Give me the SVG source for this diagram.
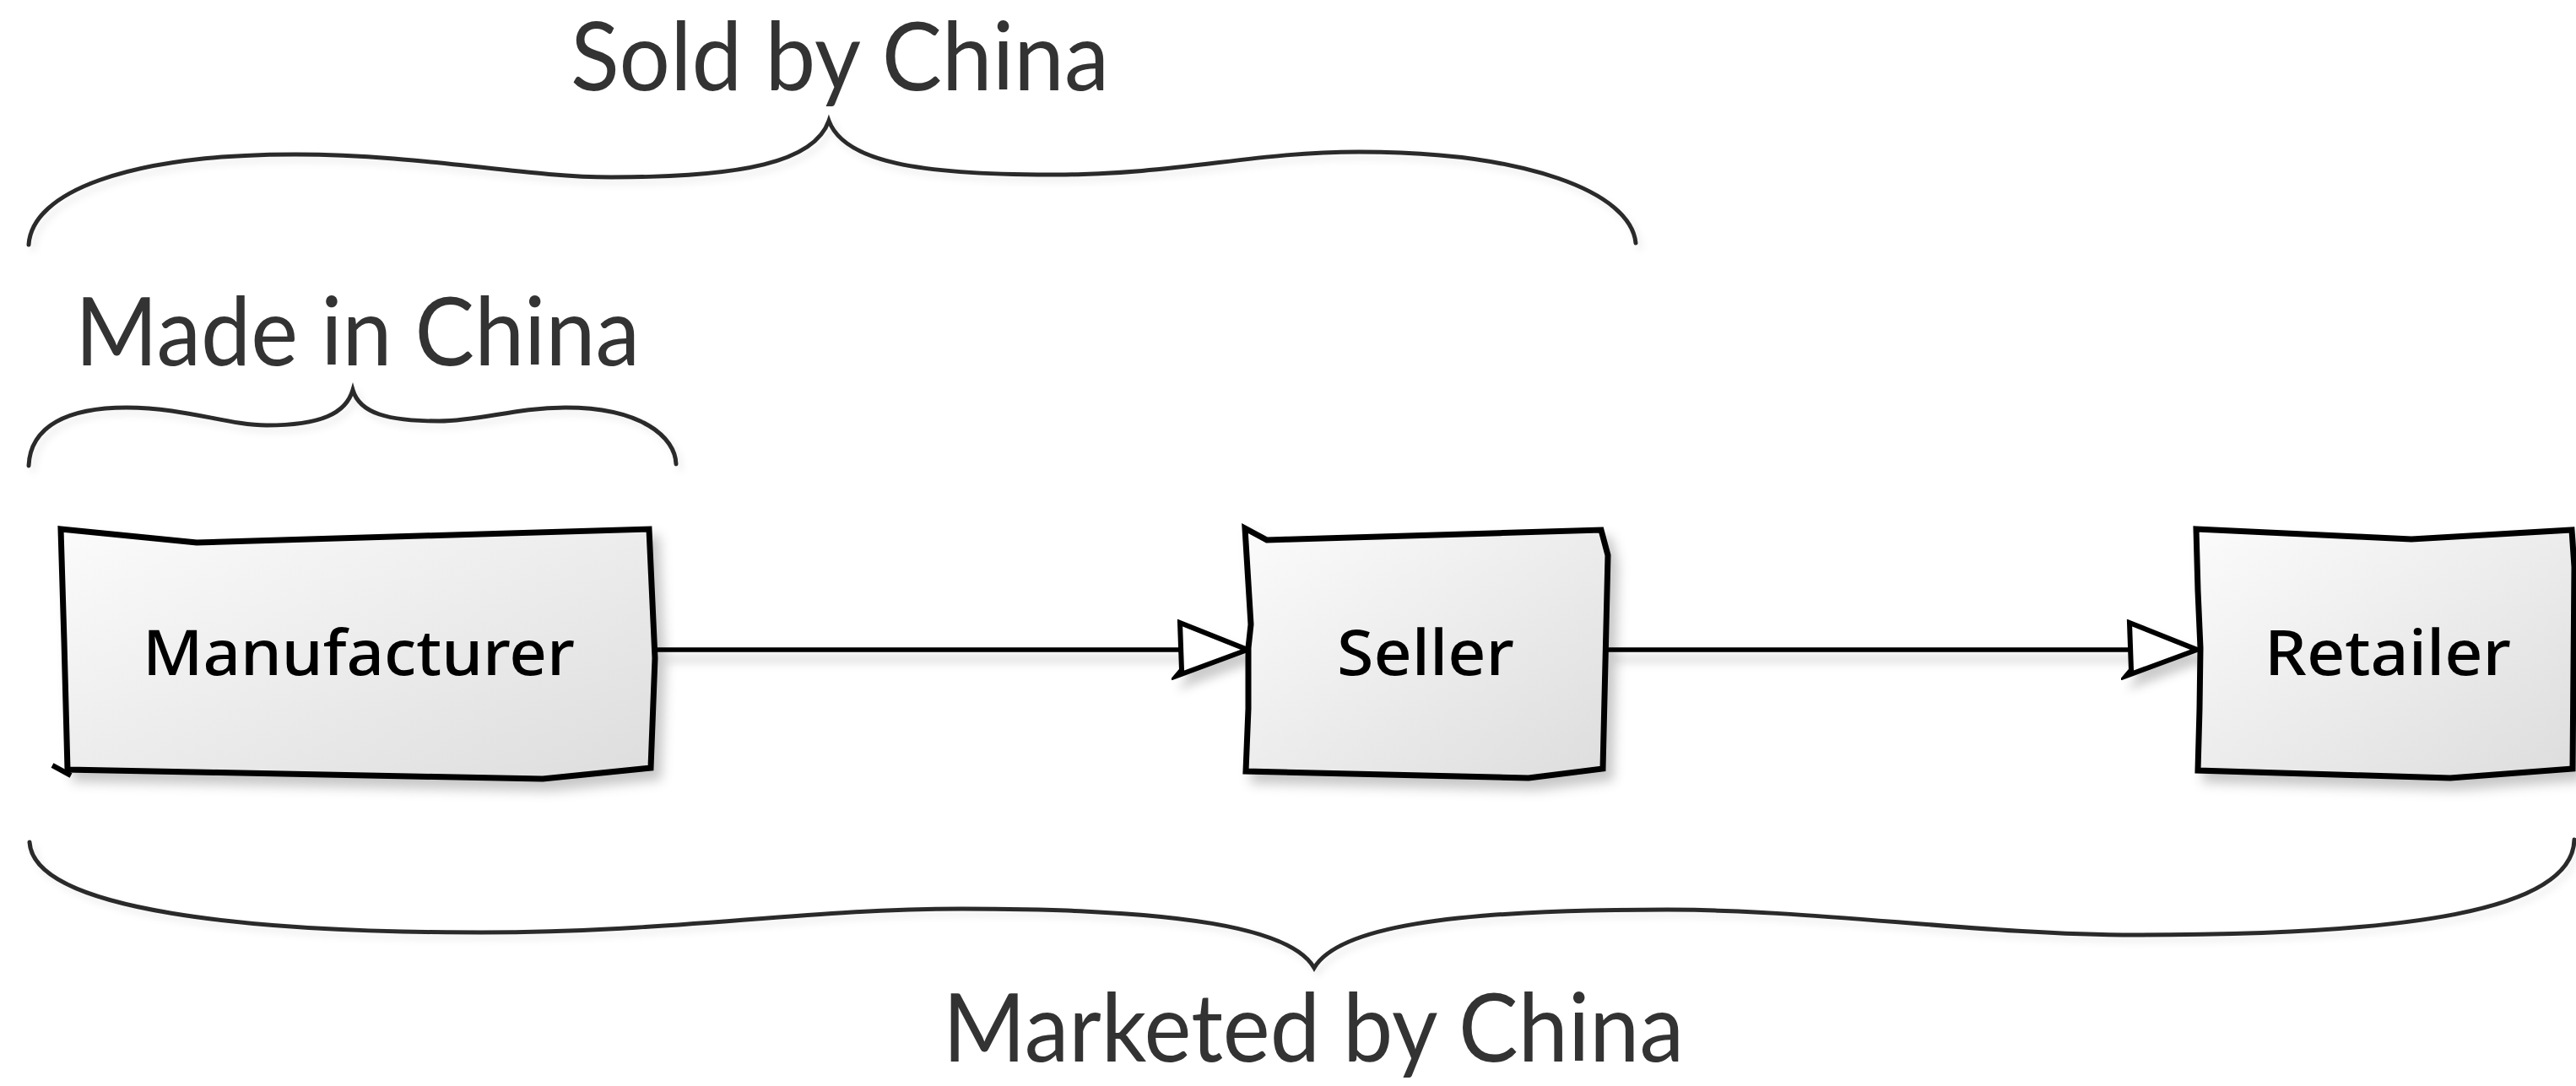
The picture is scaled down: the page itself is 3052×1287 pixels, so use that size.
<svg xmlns="http://www.w3.org/2000/svg" width="3052" height="1287" viewBox="0 0 3052 1287">
  <defs>
    <linearGradient id="boxFill" x1="0" y1="0" x2="1" y2="1">
      <stop offset="0" stop-color="#fbfbfb"/>
      <stop offset="1" stop-color="#dddddd"/>
    </linearGradient>
    <filter id="shadow" x="-10%" y="-10%" width="130%" height="140%">
      <feDropShadow dx="9" dy="11" stdDeviation="7" flood-color="#000" flood-opacity="0.22"/>
    </filter>
    <!-- straight edges have a zero-height box, so their shadow region is given in user space -->
    <filter id="edgeShadow" filterUnits="userSpaceOnUse" x="0" y="600" width="3052" height="300">
      <feDropShadow dx="9" dy="11" stdDeviation="6" flood-color="#000" flood-opacity="0.2"/>
    </filter>
    <filter id="softShadow" x="-5%" y="-20%" width="110%" height="160%">
      <feDropShadow dx="5" dy="6" stdDeviation="4" flood-color="#000" flood-opacity="0.08"/>
    </filter>
    <marker id="openTri" viewBox="0 0 100 72" markerWidth="100" markerHeight="72" refX="90" refY="36" orient="auto" markerUnits="userSpaceOnUse">
      <path d="M 10 4 L 90 36 L 6 67 L 12 60 Z" fill="#ffffff" stroke="#000" stroke-width="6" stroke-linejoin="miter"/>
    </marker>
  </defs>
  <style>
    .box { fill: url(#boxFill); stroke: #000; stroke-width: 7; stroke-linejoin: miter; filter: url(#shadow); }
    .tick { fill: none; stroke: #000; stroke-width: 6; }
    .label { font-family: "Noto Sans", "DejaVu Sans", sans-serif; font-size: 74px; font-weight: 500; fill: #000; text-anchor: middle; }
    .brace { fill: none; stroke: #2b2b2b; stroke-width: 5; stroke-linecap: round; filter: url(#softShadow); }
    .caption { font-family: "Lato", "Liberation Sans", sans-serif; font-size: 112px; fill: #333333; }
    .edge { fill: none; stroke: #000; stroke-width: 5.5; marker-end: url(#openTri); }
  </style>

  <rect width="3052" height="1287" fill="#ffffff"/>

  <!-- scope braces and their captions -->
  <g id="brace-sold">
    <path class="brace" d="M 34 290 C 38 228, 150 183, 350 183 C 500 183, 620 210, 724 210 C 880 210, 965 192, 982 143 C 1000 192, 1090 207, 1244 207 C 1400 207, 1480 180, 1610 180 C 1810 180, 1932 228, 1938 288"/>
    <text class="caption" x="676" y="107" textLength="638" lengthAdjust="spacingAndGlyphs">Sold by China</text>
  </g>

  <g id="brace-made">
    <path class="brace" d="M 34 552 C 36 505, 80 483, 150 483 C 220 483, 270 504, 316 504 C 380 504, 410 490, 418 462 C 426 490, 460 499, 520 499 C 570 499, 610 483, 670 483 C 760 483, 800 518, 801 550"/>
    <text class="caption" x="89" y="433" textLength="669" lengthAdjust="spacingAndGlyphs">Made in China</text>
  </g>

  <g id="brace-marketed">
    <path class="brace" d="M 35 998 C 40 1080, 300 1105, 570 1105 C 800 1105, 950 1077, 1140 1077 C 1400 1077, 1530 1100, 1557 1147 C 1585 1100, 1710 1078, 1975 1078 C 2150 1078, 2350 1108, 2530 1108 C 2850 1108, 3048 1080, 3050 995"/>
    <text class="caption" x="1117" y="1258" textLength="878" lengthAdjust="spacingAndGlyphs">Marketed by China</text>
  </g>

  <!-- connectors -->
  <g id="connectors" filter="url(#edgeShadow)">
    <path class="edge" d="M 779 770 L 1478 770"/>
    <path class="edge" d="M 1903 770 L 2603 770"/>
  </g>

  <!-- nodes -->
  <g id="manufacturer">
    <path class="box" d="M 72 627 L 233 643 L 769 627 L 776 780 L 771 910 L 643 923 L 80 912 L 76 760 Z"/>
    <path class="tick" d="M 62 907 L 84 919"/>
    <text class="label" x="425" y="800" textLength="512" lengthAdjust="spacingAndGlyphs">Manufacturer</text>
  </g>

  <g id="seller">
    <path class="box" d="M 1475 626 L 1501 640 L 1897 628 L 1905 658 L 1899 911 L 1811 922 L 1476 914 L 1479 840 L 1479 768 L 1482 740 Z"/>
    <text class="label" x="1689" y="800" textLength="210" lengthAdjust="spacingAndGlyphs">Seller</text>
  </g>

  <g id="retailer">
    <path class="box" d="M 2602 627 L 2857 639 L 3047 628 L 3050 672 L 3048 911 L 2903 922 L 2604 913 L 2606 840 L 2607 768 L 2604 700 Z"/>
    <text class="label" x="2829" y="800" textLength="292" lengthAdjust="spacingAndGlyphs">Retailer</text>
  </g>
</svg>
